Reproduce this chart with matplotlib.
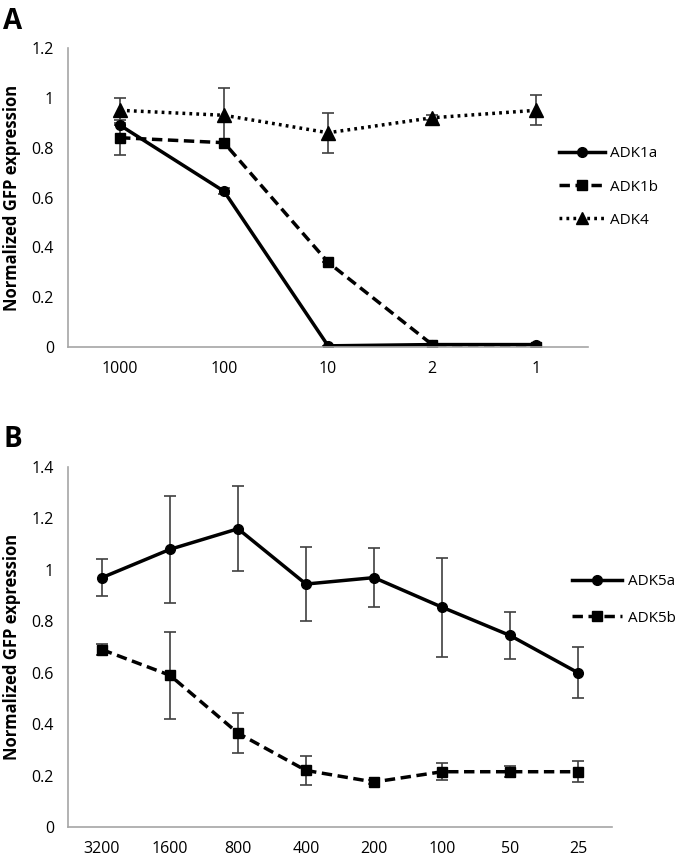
import numpy as np
import matplotlib
matplotlib.use("Agg")
import matplotlib.pyplot as plt
from matplotlib.lines import Line2D

plt.rcParams['font.family'] = ['Open Sans', 'DejaVu Sans']

# panel A
dil_a = ["1000", "100", "10", "2", "1"]
adk1a = [0.89, 0.625, 0.005, 0.01, 0.01]
adk1a_err = [0.0, 0.012, 0.0, 0.0, 0.0]
adk1b = [0.84, 0.82, 0.34, 0.01, 0.0]
adk1b_err = [0.07, 0.0, 0.0, 0.0, 0.0]
adk4 = [0.95, 0.93, 0.86, 0.92, 0.95]
adk4_err = [0.05, 0.11, 0.08, 0.01, 0.06]

# panel B
dil_b = ["3200", "1600", "800", "400", "200", "100", "50", "25"]
adk5a = [0.97, 1.08, 1.16, 0.945, 0.97, 0.855, 0.745, 0.60]
adk5a_err = [0.073, 0.207, 0.165, 0.143, 0.115, 0.193, 0.093, 0.10]
adk5b = [0.69, 0.59, 0.365, 0.22, 0.175, 0.215, 0.215, 0.215]
adk5b_err = [0.02, 0.17, 0.078, 0.058, 0.008, 0.033, 0.022, 0.04]

fig = plt.figure(figsize=(6.8, 8.57), dpi=100)
ax1 = fig.add_axes([0.1, 0.595, 0.765, 0.349])
ax2 = fig.add_axes([0.1, 0.035, 0.80, 0.42])

err_kw = dict(ecolor='#404040', elinewidth=1.2, capsize=4, capthick=1.2)
dash = (0, (3, 1.6))
dots = (0, (0.8, 1.2))


def style(ax, labels, ymax, step):
    n = len(labels)
    ax.set_xlim(-0.5, n - 0.5)
    ax.set_ylim(0, ymax)
    ax.set_xticks(range(n))
    ax.set_xticklabels(labels)
    yt = np.arange(0, ymax + 1e-9, step)
    ax.set_yticks(yt)
    ax.set_yticklabels([f"{v:g}" for v in yt])
    for s in ['top', 'right']:
        ax.spines[s].set_visible(False)
    for s in ['left', 'bottom']:
        ax.spines[s].set_color('#a6a6a6')
        ax.spines[s].set_linewidth(1.2)
    ax.tick_params(length=0, labelsize=11.5, pad=10)
    ax.set_ylabel("Normalized GFP expression", fontsize=12, fontweight='bold', labelpad=8)


def handle(ls, marker, ms):
    return Line2D([], [], color='black', lw=2.5, ls=ls, marker=marker, ms=ms)


leg_kw = dict(loc='center left', frameon=False, fontsize=11, handletextpad=0.35,
              borderpad=0, borderaxespad=0)

x = np.arange(len(dil_a))
ax1.errorbar(x, adk1a, yerr=adk1a_err, color='black', lw=2.5, ls='-', marker='o', ms=7, **err_kw)
ax1.errorbar(x, adk1b, yerr=adk1b_err, color='black', lw=2.5, ls=dash, marker='s', ms=7, **err_kw)
ax1.errorbar(x, adk4, yerr=adk4_err, color='black', lw=2.5, ls=dots, marker='^', ms=10, **err_kw)
style(ax1, dil_a, 1.2, 0.2)
fig.legend([handle('-', 'o', 7), handle(dash, 's', 7), handle(dots, '^', 9)],
           ['ADK1a', 'ADK1b', 'ADK4'], bbox_to_anchor=(559 / 680, 1 - 187 / 857),
           handlelength=3.0, labelspacing=1.2, **leg_kw)

x = np.arange(len(dil_b))
ax2.errorbar(x, adk5a, yerr=adk5a_err, color='black', lw=2.5, ls='-', marker='o', ms=7, **err_kw)
ax2.errorbar(x, adk5b, yerr=adk5b_err, color='black', lw=2.5, ls=dash, marker='s', ms=7, **err_kw)
style(ax2, dil_b, 1.4, 0.2)
fig.legend([handle('-', 'o', 7), handle(dash, 's', 7)], ['ADK5a', 'ADK5b'],
           bbox_to_anchor=(572 / 680, 1 - 600 / 857), handlelength=3.3,
           labelspacing=1.4, **leg_kw)

fig.text(0.005, 0.975, "A", fontsize=20, fontweight='bold', va='center')
fig.text(0.005, 0.487, "B", fontsize=20, fontweight='bold', va='center')

fig.savefig("out.png", dpi=100)
